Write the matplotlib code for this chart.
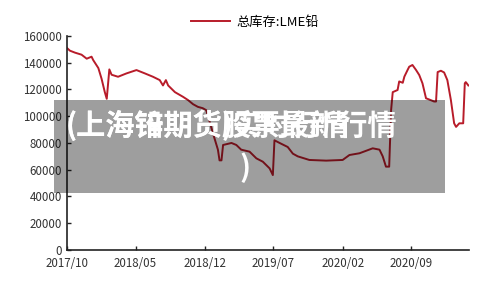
import matplotlib
matplotlib.use("Agg")
import matplotlib.pyplot as plt
import pandas as pd
from matplotlib.patches import Rectangle

plt.rcParams['font.family'] = ['Noto Sans CJK SC', 'DejaVu Sans']

dates = ["2017-10-01", "2017-10-10", "2017-10-26", "2017-11-15", "2017-12-01", "2017-12-16",
         "2017-12-21", "2018-01-06", "2018-01-16", "2018-01-26", "2018-02-01", "2018-02-09",
         "2018-02-16", "2018-03-08", "2018-04-03", "2018-05-04", "2018-05-30", "2018-06-24",
         "2018-07-15", "2018-07-25", "2018-08-03", "2018-08-10", "2018-08-31", "2018-09-25",
         "2018-10-11", "2018-10-26", "2018-11-10", "2018-11-25", "2018-12-06", "2018-12-27",
         "2019-01-11", "2019-01-16", "2019-01-22", "2019-01-27", "2019-02-22", "2019-03-09",
         "2019-03-24", "2019-04-19", "2019-05-10", "2019-05-30", "2019-06-20", "2019-06-30",
         "2019-07-05", "2019-07-21", "2019-08-15", "2019-08-31", "2019-09-15", "2019-10-21",
         "2019-12-12", "2020-02-01", "2020-02-22", "2020-03-24", "2020-05-04", "2020-05-25",
         "2020-06-04", "2020-06-14", "2020-06-24", "2020-06-30", "2020-07-05", "2020-07-20",
         "2020-07-25", "2020-08-05", "2020-08-10", "2020-08-20", "2020-08-25", "2020-09-04",
         "2020-09-15", "2020-09-25", "2020-10-05", "2020-10-16", "2020-10-31", "2020-11-10",
         "2020-11-16", "2020-11-21", "2020-12-01", "2020-12-11", "2020-12-21", "2021-01-01",
         "2021-01-11", "2021-01-17", "2021-01-27", "2021-02-08", "2021-02-13", "2021-02-16",
         "2021-02-24"]
stock = [151000, 149000, 147500, 146000, 143000, 144500,
         142000, 136000, 128000, 118000, 113000, 135000,
         131000, 129500, 132000, 134500, 132000, 129500,
         127000, 123000, 127000, 123000, 118000, 114500,
         112000, 109000, 107000, 106000, 104500, 87000,
         75000, 67000, 67000, 78500, 80000, 78500,
         75000, 73500, 68500, 66000, 61000, 56000,
         82000, 80000, 77000, 72000, 70000, 67300,
         66800, 67300, 71000, 72300, 76000, 75000,
         70000, 62300, 62300, 104700, 118000, 119600,
         126000, 125000, 129600, 134600, 137000, 138300,
         134600, 130800, 124600, 113400, 112000, 111000,
         111000, 133000, 134000, 132700, 127000, 112000,
         94700, 92000, 94700, 94700, 124600, 125500,
         123000]
tick_dates = ["2017-10-01", "2018-05-01", "2018-12-01", "2019-07-01", "2020-02-01", "2020-09-01"]
tick_labels = ["2017/10", "2018/05", "2018/12", "2019/07", "2020/02", "2020/09"]
series_name = "总库存:LME铅"
overlay_a = "(上海铅期货股票最新行情"
overlay_b = "(上海锌期货)实时行情"
overlay_c = ")"

x = pd.to_datetime(dates)
fig = plt.figure(figsize=(5, 2.94), dpi=100)
ax = fig.add_axes([0.134, 0.1497, 0.804, 0.728])
line, = ax.plot(x, stock, color='#b81c2a', lw=1.4, label=series_name)
ax.set_ylim(0, 160000)
ax.set_yticks(range(0, 160001, 20000))
ax.set_xlim(pd.Timestamp("2017-10-01"), pd.Timestamp("2021-02-26"))
ax.set_xticks(pd.to_datetime(tick_dates))
ax.set_xticklabels(tick_labels)
for s in ['top', 'right']:
    ax.spines[s].set_visible(False)
for s in ['left', 'bottom']:
    ax.spines[s].set_linewidth(1.2)
    ax.spines[s].set_color('#222222')
ax.tick_params(direction='in', length=3, width=1, colors='#222222', labelsize=8.3,
               labelcolor='#333333')
ax.tick_params(axis='x', pad=5)
fig.legend(handles=[line], loc='center', bbox_to_anchor=(0.51, 0.925), frameon=False,
           fontsize=9.5, handlelength=3.0, handletextpad=0.5)

# overlay banner
fig.patches.append(Rectangle((54/500, 1-193/294), (445-54)/500, (193-100)/294,
                             transform=fig.transFigure, facecolor='black', alpha=0.38,
                             edgecolor='none', zorder=5))
fig.text(66/500, 1-125/294, overlay_a, color='white', fontsize=21, fontweight='bold',
         ha='left', va='center', zorder=6)
fig.text(66/500, 1-125/294, overlay_b, color='white', fontsize=21, fontweight='bold',
         ha='left', va='center', zorder=6)
fig.text(245/500, 1-168/294, overlay_c, color='white', fontsize=21, fontweight='bold',
         ha='center', va='center', zorder=6)

fig.savefig("out.png", dpi=100)
